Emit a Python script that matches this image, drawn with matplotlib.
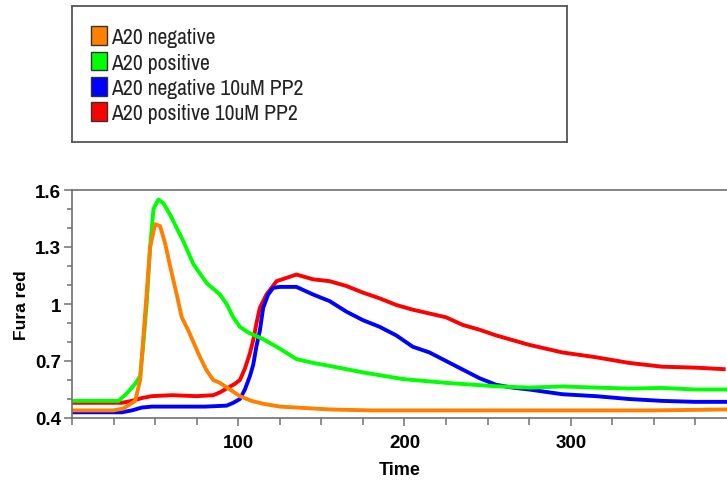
import matplotlib
matplotlib.use("Agg")
import matplotlib.pyplot as plt
from matplotlib import font_manager
from matplotlib.patches import Patch
from matplotlib.ticker import MultipleLocator, FixedLocator

# series (time, Fura red ratio)
neg_t = [0, 25, 31, 38, 41, 44, 47, 50, 53, 56, 59, 63, 66, 70, 73, 77, 81, 85, 89,
         95, 101, 108, 115, 125, 135, 155, 180, 220, 260, 300, 350, 394]
neg_y = [0.44, 0.44, 0.45, 0.49, 0.6, 0.95, 1.3, 1.42, 1.41, 1.32, 1.2, 1.05, 0.93,
         0.86, 0.8, 0.72, 0.65, 0.6, 0.585, 0.55, 0.515, 0.49, 0.475, 0.46, 0.455,
         0.445, 0.44, 0.44, 0.44, 0.44, 0.44, 0.445]

pos_t = [0, 28, 33, 38, 41, 43, 45, 47, 49, 52, 55, 59, 63, 67, 73, 77, 81, 85, 89,
         93, 97, 101, 106, 115, 125, 135, 145, 155, 175, 199, 225, 255, 275, 295,
         315, 335, 355, 375, 394]
pos_y = [0.49, 0.49, 0.53, 0.58, 0.62, 0.8, 1.01, 1.3, 1.5, 1.55, 1.53, 1.47, 1.4,
         1.33, 1.21, 1.16, 1.11, 1.08, 1.05, 1.0, 0.93, 0.88, 0.85, 0.815, 0.765,
         0.71, 0.69, 0.674, 0.64, 0.605, 0.585, 0.567, 0.56, 0.566, 0.56, 0.555,
         0.558, 0.55, 0.55]

negpp2_t = [0, 30, 36, 42, 48, 60, 80, 93, 97, 101, 104, 107, 109, 111, 113, 115, 118,
            121, 125, 135, 145, 155, 165, 175, 185, 195, 205, 215, 225, 235, 245, 255,
            265, 275, 295, 315, 335, 355, 375, 394]
negpp2_y = [0.43, 0.43, 0.44, 0.455, 0.46, 0.46, 0.46, 0.465, 0.48, 0.5, 0.55, 0.62,
            0.68, 0.78, 0.86, 0.98, 1.05, 1.085, 1.09, 1.09, 1.05, 1.015, 0.96, 0.915,
            0.88, 0.835, 0.775, 0.745, 0.7, 0.655, 0.61, 0.575, 0.56, 0.55, 0.525,
            0.515, 0.5, 0.49, 0.485, 0.485]

pospp2_t = [0, 30, 36, 42, 48, 60, 75, 85, 89, 94, 98, 101, 104, 107, 109, 111, 113,
            117, 123, 135, 145, 155, 165, 175, 185, 195, 205, 215, 225, 235, 245, 255,
            265, 275, 285, 295, 315, 335, 355, 375, 392]
pospp2_y = [0.48, 0.48, 0.49, 0.505, 0.515, 0.52, 0.515, 0.52, 0.535, 0.56, 0.58, 0.6,
            0.66, 0.74, 0.81, 0.9, 0.98, 1.05, 1.12, 1.155, 1.13, 1.12, 1.095, 1.06,
            1.03, 0.995, 0.97, 0.95, 0.93, 0.89, 0.865, 0.835, 0.81, 0.785, 0.765,
            0.745, 0.72, 0.69, 0.67, 0.665, 0.657]

labels = ["A20 negative", "A20 positive", "A20 negative 10uM PP2", "A20 positive 10uM PP2"]
colors = ["#FF8000", "#00FF00", "#0000FF", "#FF0000"]
y_ticks = [0.4, 0.7, 1.0, 1.3, 1.6]
y_ticklabels = ["0.4", "0.7", "1", "1.3", "1.6"]
x_ticks = [100, 200, 300]

# legend text in the reference is a narrow face; use one if it is there
narrow = [f for f in font_manager.fontManager.ttflist
          if "Narrow" in f.name and f.weight in (400, "normal", "regular") and f.style == "normal"]
if narrow:
    leg_prop = font_manager.FontProperties(fname=narrow[0].fname, size=15.6)
else:
    leg_prop = font_manager.FontProperties(family="Roboto", size=14)

W, H = 727, 481
fig = plt.figure(figsize=(W / 100, H / 100), dpi=100)

ax = fig.add_axes([72 / W, 1 - 419 / H, 1 - 72 / W, (419 - 191) / H])
series = [(pospp2_t, pospp2_y, colors[3]), (negpp2_t, negpp2_y, colors[2]),
          (pos_t, pos_y, colors[1]), (neg_t, neg_y, colors[0])]
for t, y, c in series:
    ax.plot(t, y, color=c, linewidth=2.8, solid_joinstyle="round")

ax.set_xlim(0, 394)
ax.set_ylim(0.4, 1.6)
ax.yaxis.set_major_locator(FixedLocator(y_ticks))
ax.set_yticklabels(y_ticklabels)
ax.yaxis.set_minor_locator(MultipleLocator(0.1))
ax.xaxis.set_major_locator(FixedLocator(x_ticks))
ax.xaxis.set_minor_locator(MultipleLocator(25))
for side in ["left", "bottom", "top"]:
    ax.spines[side].set_color("#707070")
    ax.spines[side].set_linewidth(1.2)
ax.spines["right"].set_visible(False)
ax.tick_params(axis="both", which="both", direction="out", color="#707070", width=1.1)
ax.tick_params(axis="y", which="major", length=6, labelsize=13.5, pad=2)
ax.tick_params(axis="y", which="minor", length=3.5)
ax.tick_params(axis="x", which="major", length=5.5, labelsize=13.5, pad=6)
ax.tick_params(axis="x", which="minor", length=5)
for lab in ax.get_xticklabels() + ax.get_yticklabels():
    lab.set_fontfamily("Liberation Sans")
    lab.set_fontweight("bold")
ax.set_xlabel("Time", fontfamily="Liberation Sans", fontweight="bold", fontsize=13, labelpad=7)
ax.set_ylabel("Fura red", fontfamily="Liberation Sans", fontweight="bold", fontsize=12.5, labelpad=4)

# legend box at the top
lax = fig.add_axes([72 / W, 1 - 143 / H, (567 - 72) / W, (143 - 7) / H])
lax.set_xticks([])
lax.set_yticks([])
for s in lax.spines.values():
    s.set_color("#555555")
    s.set_linewidth(1.3)
handles = [Patch(facecolor=c, edgecolor="#333333", linewidth=1.0) for c in colors]
leg = lax.legend(handles, labels, loc="upper left", bbox_to_anchor=(0.038, 0.85),
                 frameon=False, prop=leg_prop,
                 handlelength=0.77, handleheight=0.95, handletextpad=0.18,
                 labelspacing=0.21, borderpad=0, borderaxespad=0)
for txt in leg.get_texts():
    txt.set_color("#222222")

fig.savefig("out.png", dpi=100)
